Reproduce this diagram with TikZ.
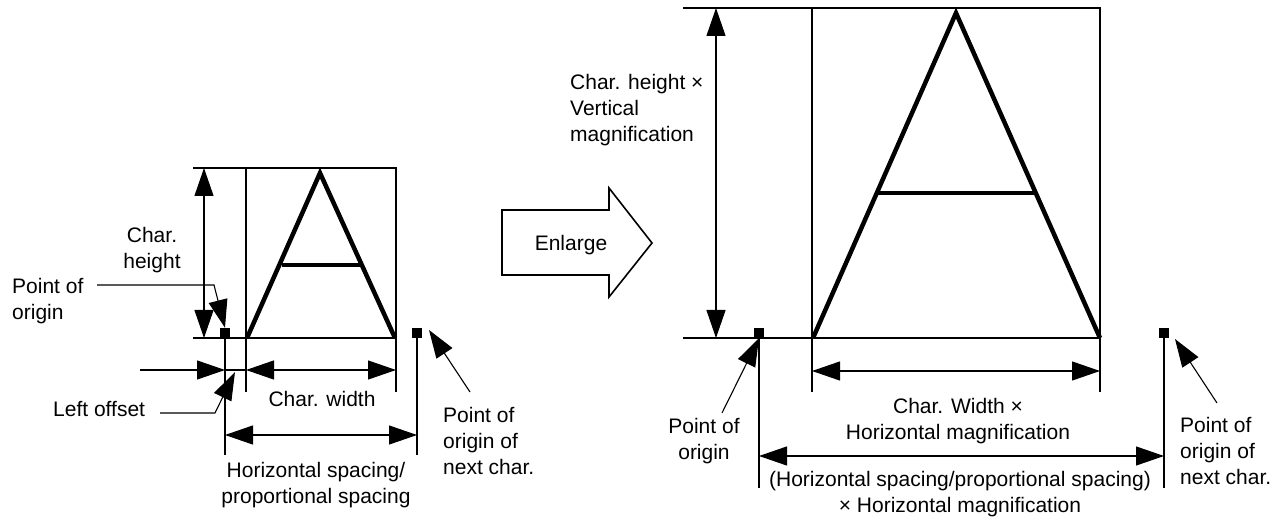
\documentclass[tikz,border=0pt]{standalone}
\usepackage{fontspec}
\setmainfont{Liberation Sans}
\usetikzlibrary{positioning,arrows.meta}

\begin{document}
\begin{tikzpicture}[x=1pt,y=-1pt,
    lbl/.style={font=\fontsize{21}{26}\selectfont,inner sep=0pt},
    dim/.style={line width=1.1pt,{Triangle[length=28pt,width=19pt]}-{Triangle[length=28pt,width=19pt]}},
    tip/.style={line width=1.1pt,-{Triangle[length=28pt,width=19pt]}},
    guide/.style={line width=1.1pt},
    frame/.style={line width=1.6pt},
    glyph/.style={line width=4.5pt,line join=miter},
    dot/.style={fill=black,inner sep=0pt,minimum size=10pt}]
  \useasboundingbox (0,0) rectangle (1288,521);

    %%%%% THE SMALL CHARACTER
    \begin{scope}
      \coordinate (tlA) at (193,168);
      \coordinate (blA) at (193,338);
      \coordinate (bxA) at (246,338);
      \coordinate (byA) at (396,168);
      \draw[frame] (bxA) rectangle (byA);
      \draw[glyph] (247,338) -- (320,173) -- (395,338);
      \draw[glyph] (282,265) -- (362,265);
      \node[dot] (orgA) at (225,333) {};
      \node[dot] (nxtA) at (417,333) {};
      % extension lines
      \draw[guide] (tlA) -- (246,168);
      \draw[guide] (blA) -- (bxA);
      \draw[guide] (orgA.south) -- (225,455) coordinate (eoA);
      \draw[guide] (bxA) -- (246,392);
      \draw[guide] (396,338) -- (396,392);
      \draw[guide] (nxtA.south) -- (417,455) coordinate (enA);
    \end{scope}
    %%%%% DIMENSIONS OF THE SMALL CHARACTER
    \begin{scope}
      \draw[dim] (204,168) -- (204,338);
      \coordinate (offA) at (225,370);
      \draw[tip] (140,370) -- (offA);
      \draw[guide] (offA) -- (246,370);
      \draw[dim] (246,370) -- (396,370);
      \draw[dim] (225,435) -- (417,435);
      \node[lbl,align=center] (chhA) at (152,250) {Char.\\height};
      \node[lbl] (chwA) at (322,399) {Char. width};
      \node[lbl,align=center] (spcA) at (316,485) {Horizontal spacing/\\proportional spacing};
      \node[lbl,align=left,anchor=north west] (porA) at (12,278) {Point of\\origin};
      \node[lbl,anchor=west] (loffA) at (53,409) {Left offset};
      \node[lbl,align=left,anchor=north west] (pnxA) at (443,407) {Point of\\origin of\\next char.};
      % leaders
      \coordinate (la1) at (97,285);
      \coordinate (la2) at (214,285);
      \draw[tip] (la1) -- (la2) -- (orgA.north);
      \coordinate (lb1) at (160,413);
      \coordinate (lb2) at (215,413);
      \coordinate (lb3) at (235,372);
      \draw[tip] (lb1) -- (lb2) -- (lb3);
      \coordinate (lc1) at (470,392);
      \coordinate (lc2) at (429,330);
      \draw[tip] (lc1) -- (lc2);
    \end{scope}

    %%%%% THE ENLARGE ARROW
    \draw[frame] (502,210) -- (609,210) -- (609,188) -- (652,243)
      -- (609,297) -- (609,275) -- (502,275) -- cycle;
    \node[lbl] (enl) at (571,245) {Enlarge};

    %%%%% THE LARGE CHARACTER
    \begin{scope}
      \coordinate (tlB) at (683,8);
      \coordinate (blB) at (683,338);
      \coordinate (bxB) at (812,338);
      \coordinate (byB) at (1100,8);
      \draw[frame] (bxB) rectangle (byB);
      \draw[glyph] (813,338) -- (956,13) -- (1100,338);
      \draw[glyph] (876,193) -- (1036,193);
      \node[dot] (orgB) at (759,333) {};
      \node[dot] (nxtB) at (1164,333) {};
      % extension lines
      \draw[guide] (tlB) -- (812,8);
      \draw[guide] (blB) -- (bxB);
      \draw[guide] (orgB.south) -- (759,488);
      \draw[guide] (bxB) -- (812,392);
      \draw[guide] (1100,338) -- (1100,392);
      \draw[guide] (nxtB.south) -- (1164,488);
    \end{scope}
    %%%%% DIMENSIONS OF THE LARGE CHARACTER
    \begin{scope}
      \draw[dim] (716,8) -- (716,338);
      \draw[dim] (812,371) -- (1100,371);
      \draw[dim] (759,456) -- (1164,456);
      \node[lbl,align=left,anchor=north west] (chhB) at (570,74) {Char. height ×\\Vertical\\magnification};
      \node[lbl,align=center] (chwB) at (958,421) {Char. Width ×\\Horizontal magnification};
      \node[lbl,align=center] (spcB) at (960,494) {(Horizontal spacing/proportional spacing)\\× Horizontal magnification};
      \node[lbl,align=center] (porB) at (704,441) {Point of\\origin};
      \node[lbl,align=left,anchor=north west] (pnxB) at (1180,417) {Point of\\origin of\\next char.};
      % leaders
      \coordinate (ld1) at (722,413);
      \draw[tip] (ld1) -- (orgB.south);
      \coordinate (le1) at (1217,403);
      \coordinate (le2) at (1175,339);
      \draw[tip] (le1) -- (le2);
    \end{scope}
\end{tikzpicture}
\end{document}
